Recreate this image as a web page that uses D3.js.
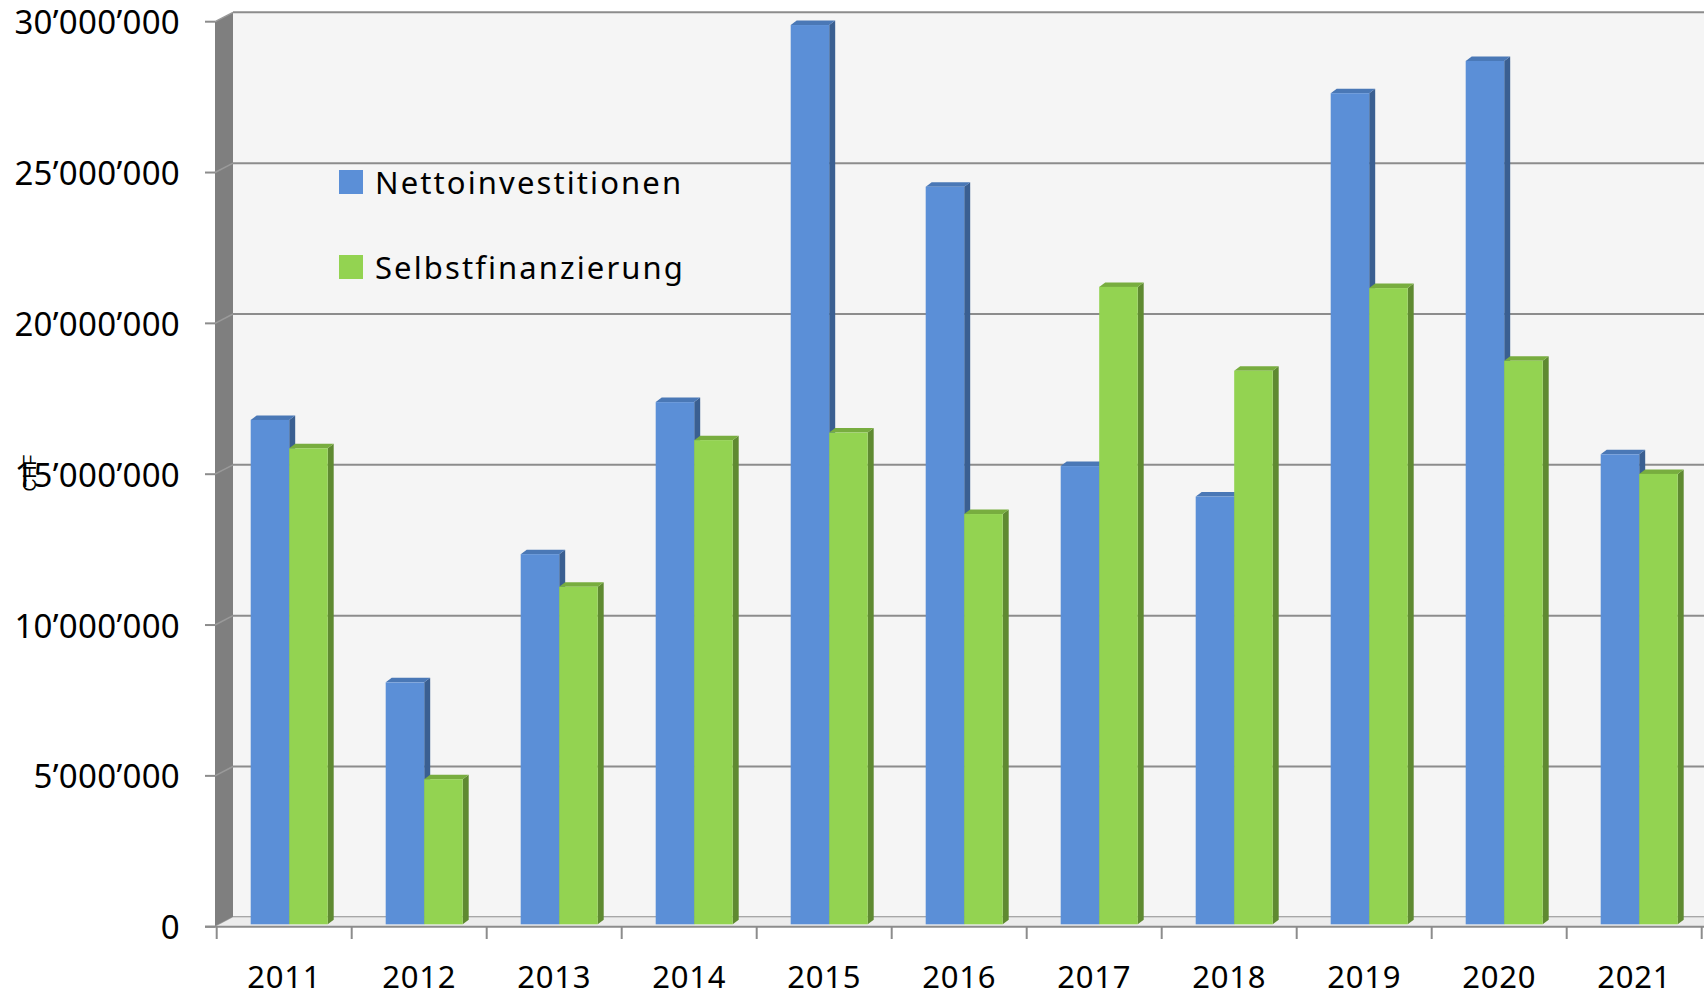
<!DOCTYPE html>
<html>
<head>
<meta charset="utf-8">
<script src="https://cdn.jsdelivr.net/npm/d3@7"></script>
<style>
  body { margin: 0; background: #fff; }
  text { font-family: "Noto Sans", sans-serif; fill: #000; }
</style>
</head>
<body>
<div id="chart"></div>
<script>
// data (CHF)
const years = ["2011", "2012", "2013", "2014", "2015", "2016", "2017", "2018", "2019", "2020", "2021"];
const netto = [16720000, 8020000, 12270000, 17310000, 29810000, 24450000, 15190000, 14180000, 27550000, 28620000, 15580000];
const selbst = [15780000, 4810000, 11190000, 16050000, 16300000, 13600000, 21130000, 18350000, 21090000, 18680000, 14930000];
const seriesNames = ["Nettoinvestitionen", "Selbstfinanzierung"];
const yTicks = [0, 5000000, 10000000, 15000000, 20000000, 25000000, 30000000];
const unitLabel = "CHF";

const W = 1704, H = 994;

// 3D look: back wall offset and bar depth
const wallDx = 18, wallDy = -9.4;
const barDx = 6, barDy = -4.5;
const left = 215;

const colors = {
  front: ["#5b8fd7", "#93d351"],
  side: ["#3a5f91", "#5f8a31"],
  top: ["#4a78b6", "#78ad3f"]
};

const svg = d3.select("#chart")
  .append("svg")
    .attr("width", W)
    .attr("height", H);

// scales: x band for the years, y on the front plane
const x = d3.scaleBand()
  .domain(years)
  .range([216.7, 1701.7]);

const y = d3.scaleLinear()
  .domain([0, 30000000])
  .range([926.7, 21.7]);

const fmt = d3.formatLocale({decimal: ".", thousands: "\u2019", grouping: [3], currency: ["", ""]}).format(",");

// back wall
svg.append("rect")
  .attr("x", left + wallDx)
  .attr("y", y(30000000) + wallDy)
  .attr("width", W - left - wallDx)
  .attr("height", y(0) - y(30000000))
  .attr("fill", "#f5f5f5");

// gridlines on the back wall
svg.append("g")
  .selectAll("line")
  .data(yTicks)
  .enter().append("line")
    .attr("x1", left + wallDx)
    .attr("x2", W)
    .attr("y1", d => y(d) + wallDy)
    .attr("y2", d => y(d) + wallDy)
    .attr("stroke", "#8c8c8c")
    .attr("stroke-width", 2);

// side wall
svg.append("path")
  .attr("d", `M${left},${y(30000000)} L${left + wallDx},${y(30000000) + wallDy} L${left + wallDx},${y(0) + wallDy} L${left},${y(0)} Z`)
  .attr("fill", "#7f7f7f");

svg.append("g")
  .selectAll("line")
  .data(yTicks)
  .enter().append("line")
    .attr("x1", left)
    .attr("x2", left + wallDx)
    .attr("y1", d => y(d))
    .attr("y2", d => y(d) + wallDy)
    .attr("stroke", "#9a9a9a")
    .attr("stroke-width", 1.5);

// floor
svg.append("path")
  .attr("d", `M${left},${y(0)} L${left + wallDx},${y(0) + wallDy} L${W},${y(0) + wallDy} L${W},${y(0)} Z`)
  .attr("fill", "#ececec");

svg.append("line")
  .attr("x1", 205).attr("x2", W)
  .attr("y1", y(0)).attr("y2", y(0))
  .attr("stroke", "#8c8c8c")
  .attr("stroke-width", 2);

// y axis ticks + labels
const yAxis = svg.append("g");
yAxis.selectAll("line")
  .data(yTicks)
  .enter().append("line")
    .attr("x1", 205).attr("x2", left)
    .attr("y1", d => y(d)).attr("y2", d => y(d))
    .attr("stroke", "#8c8c8c")
    .attr("stroke-width", 2);

yAxis.selectAll("text")
  .data(yTicks)
  .enter().append("text")
    .attr("x", 180)
    .attr("y", d => y(d) + 12.5)
    .attr("text-anchor", "end")
    .style("font-size", "33px")
    .style("letter-spacing", "0.3px")
    .text(d => fmt(d));

// x axis ticks at the band edges + year labels
const edges = years.map(d => x(d)).concat([x.range()[1]]);
svg.append("g")
  .selectAll("line")
  .data(edges)
  .enter().append("line")
    .attr("x1", d => d).attr("x2", d => d)
    .attr("y1", y(0)).attr("y2", 939)
    .attr("stroke", "#8c8c8c")
    .attr("stroke-width", 2);

svg.append("g")
  .selectAll("text")
  .data(years)
  .enter().append("text")
    .attr("x", d => x(d) + x.bandwidth() / 2)
    .attr("y", 988)
    .attr("text-anchor", "middle")
    .style("font-size", "31px")
    .style("letter-spacing", "0.8px")
    .text(d => d);

// unit label
svg.append("text")
  .attr("transform", "translate(36,473) rotate(-90)")
  .attr("text-anchor", "middle")
  .style("font-family", "Liberation Sans, sans-serif")
  .style("font-size", "18px")
  .text(unitLabel);

// bars
const barW = 38.5, groupOffset = 34;
const series = [netto, selbst];
const bars = [];
years.forEach((yr, i) => {
  series.forEach((s, k) => {
    bars.push({year: yr, k: k, value: s[i]});
  });
});

const barG = svg.append("g")
  .selectAll("g")
  .data(bars)
  .enter().append("g");

function barX(d) { return x(d.year) + groupOffset + d.k * barW; }
function barTop(d) { return y(d.value) - 2.4; }
function barBottom() { return y(0) - 2.4; }

// side face
barG.append("path")
  .attr("d", d => {
    const x1 = barX(d) + barW, t = barTop(d), b = barBottom();
    return `M${x1},${t} L${x1 + barDx},${t + barDy} L${x1 + barDx},${b + barDy} L${x1},${b} Z`;
  })
  .attr("fill", d => colors.side[d.k]);

// top face
barG.append("path")
  .attr("d", d => {
    const x0 = barX(d), t = barTop(d);
    return `M${x0},${t} L${x0 + barDx},${t + barDy} L${x0 + barW + barDx},${t + barDy} L${x0 + barW},${t} Z`;
  })
  .attr("fill", d => colors.top[d.k]);

// front face
barG.append("rect")
  .attr("x", d => barX(d))
  .attr("y", d => barTop(d))
  .attr("width", barW)
  .attr("height", d => barBottom() - barTop(d))
  .attr("fill", d => colors.front[d.k]);

// legend
const legend = svg.append("g")
  .selectAll("g")
  .data(seriesNames)
  .enter().append("g")
    .attr("transform", (d, i) => `translate(339,${170 + i * 85})`);

legend.append("rect")
  .attr("width", 24)
  .attr("height", 24)
  .attr("fill", (d, i) => colors.front[i]);

legend.append("text")
  .attr("x", 36)
  .attr("y", 24)
  .style("font-size", "31px")
  .style("letter-spacing", "2.1px")
  .text(d => d);
</script>
</body>
</html>
